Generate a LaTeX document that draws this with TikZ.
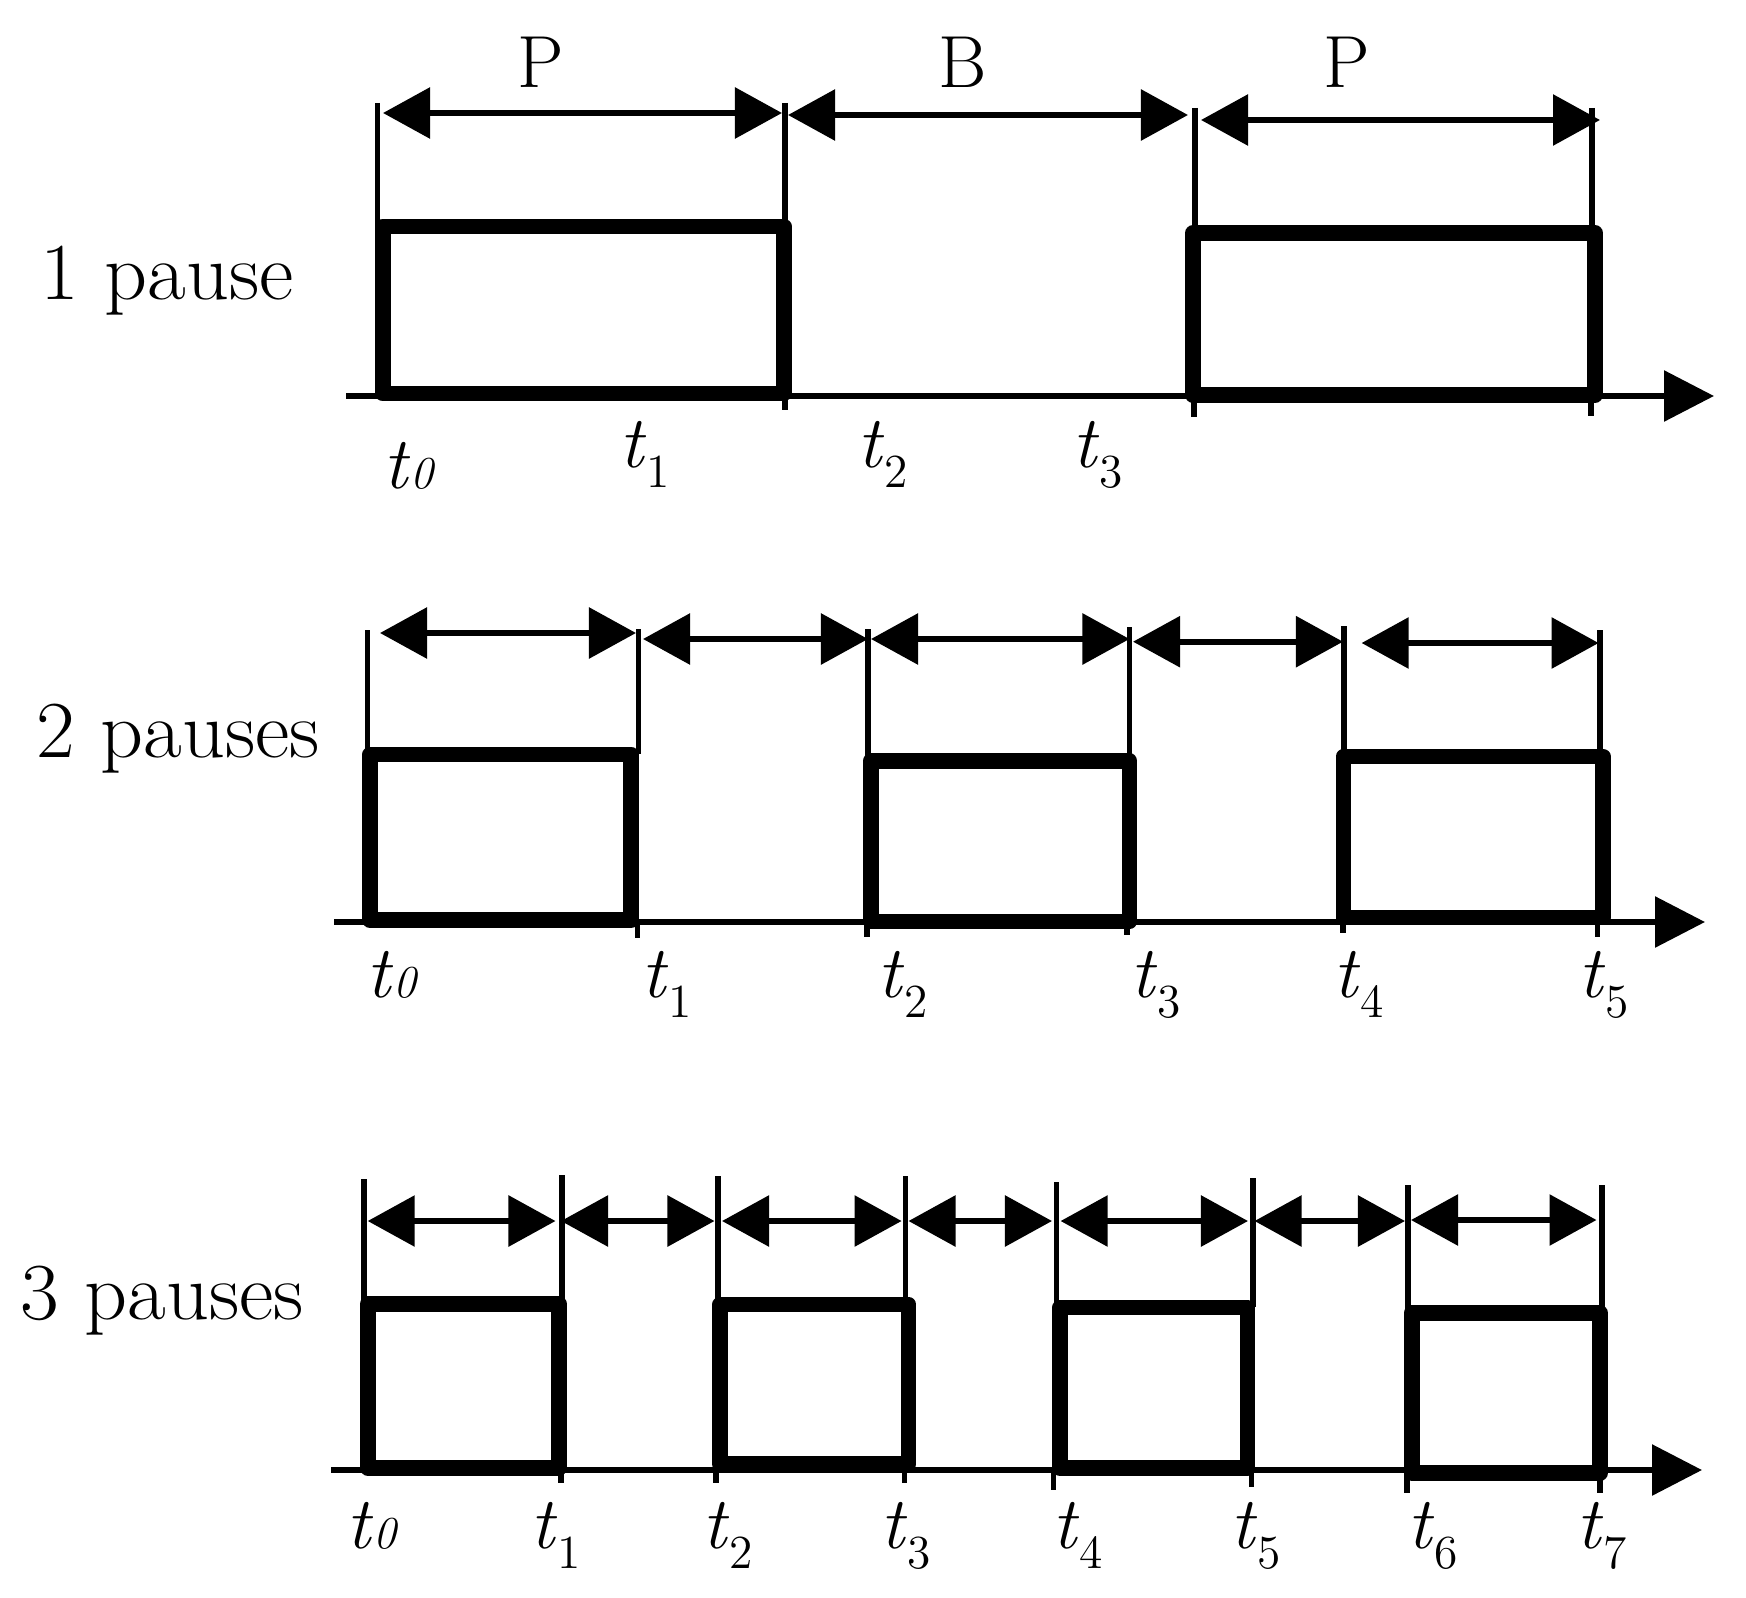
\documentclass[tikz,border=0pt]{standalone}
\usetikzlibrary{arrows.meta}
\newcommand{\tsub}[1]{\textit{t}\raisebox{-5.7pt}{\fontsize{13.5}{13.5}\selectfont #1}}
\newcommand{\tzero}{\textit{t}{\fontsize{13}{13}\selectfont\itshape 0}}
\begin{document}
\begin{tikzpicture}[x=0.01cm,y=-0.01cm]
\tikzset{
 pulse/.style={line width=4.5pt, line join=round},
 guide/.style={line width=1.5pt},
 dim/.style={line width=1.7pt, {Triangle[length=0.47cm,width=0.5cm]}-{Triangle[length=0.47cm,width=0.5cm]}},
 timeaxis/.style={line width=1.7pt, -{Triangle[length=0.5cm,width=0.5cm]}},
 lbl/.style={font=\fontsize{23}{27}\selectfont, inner sep=0pt, anchor=base west},
 tlbl/.style={font=\fontsize{21}{25}\selectfont, inner sep=0pt, anchor=base west},
}
\useasboundingbox (0,0) rectangle (1746,1597);

% ---------- row labels ----------
\node[lbl] (row1) at (40,299) {\scalebox{1.04}[1]{1 pause}};
\node[lbl] (row2) at (36,757) {\scalebox{1.04}[1]{2 pauses}};
\node[lbl] (row3) at (20,1319) {\scalebox{1.04}[1]{3 pauses}};

% ---------- time axes ----------
\coordinate (ax1s) at (346,396);  \coordinate (ax1e) at (1714,396);
\coordinate (ax2s) at (334,922);  \coordinate (ax2e) at (1705,922);
\coordinate (ax3s) at (331,1470); \coordinate (ax3e) at (1702,1470);
\draw[timeaxis] (ax1s) -- (ax1e);
\draw[timeaxis] (ax2s) -- (ax2e);
\draw[timeaxis] (ax3s) -- (ax3e);

% ---------- guide lines (top -> box top) ----------
\foreach \n/\x/\ya/\yb in {
  11/377.5/103/226, 12/785/103/226, 13/1195/108/233, 14/1592/108/233,
  21/367.7/630/754, 22/638.7/629/754, 23/868/629/761, 24/1129.5/627/761, 25/1344/626/756, 26/1600/630/756,
  31/364/1179/1304, 32/562/1175/1304, 33/718/1176/1304, 34/905.6/1176/1304, 35/1056.6/1182/1307, 36/1253/1178/1307, 37/1408/1185/1313, 38/1602/1185/1313}{
  \coordinate (g\n a) at (\x,\ya);
  \coordinate (g\n b) at (\x,\yb);
  \draw[guide] (g\n a) -- (g\n b);
}

% ---------- ticks below axes ----------
\foreach \n/\x/\ya/\yb in {
  11/785/396/410, 12/1194/396/417, 13/1591/396/416,
  21/637.5/922/938, 22/867/922/937, 23/1127/922/935, 24/1343/922/933, 25/1597.7/922/937,
  31/561/1470/1483, 32/716/1470/1483, 33/904.5/1470/1483, 34/1053.7/1470/1490, 35/1251.6/1470/1487, 36/1407/1470/1493, 37/1600/1470/1493}{
  \coordinate (k\n a) at (\x,\ya);
  \coordinate (k\n b) at (\x,\yb);
  \draw[guide] (k\n a) -- (k\n b);
}

% ---------- pulses ----------
\draw[pulse] (382.6,226.5) rectangle (784,393.5);
\draw[pulse] (1193,233) rectangle (1595,395);

\draw[pulse] (370,754.5) rectangle (631,920);
\draw[pulse] (870.6,761) rectangle (1129.5,921.5);
\draw[pulse] (1343.5,756.5) rectangle (1602.7,917.5);

\draw[pulse] (368,1304) rectangle (559,1468);
\draw[pulse] (720,1304.5) rectangle (908.5,1464);
\draw[pulse] (1060,1307.5) rectangle (1247.5,1468);
\draw[pulse] (1411.7,1313) rectangle (1600,1473);

% ---------- dimension arrows ----------
\foreach \n/\xa/\xb/\y in {
  11/383/782/113, 12/788/1188/115, 13/1201/1600/120,
  21/380/636/633, 22/643/868/639, 23/871/1129.5/639, 24/1133/1343/641.7, 25/1361.6/1598.6/643,
  31/367.7/555.5/1221, 32/561/714.5/1221, 33/722/901.6/1221, 34/908.5/1052/1221, 35/1060.6/1248/1221, 36/1254.5/1405/1221, 37/1411/1596.5/1220}{
  \coordinate (d\n a) at (\xa,\y);
  \coordinate (d\n b) at (\xb,\y);
  \draw[dim] (d\n a) -- (d\n b);
}

% ---------- interval labels ----------
\node[font=\fontsize{21}{25}\selectfont, inner sep=0pt, anchor=base] (lp1) at (541,88) {P};
\node[font=\fontsize{21}{25}\selectfont, inner sep=0pt, anchor=base] (lb1) at (963,88) {B};
\node[font=\fontsize{21}{25}\selectfont, inner sep=0pt, anchor=base] (lp2) at (1347,88) {P};

% ---------- time labels ----------
\node[tlbl] (r1t0) at (383,488) {\tzero};
\node[tlbl] (r1t1) at (619,467) {\tsub{1}};
\node[tlbl] (r1t2) at (857,467) {\tsub{2}};
\node[tlbl] (r1t3) at (1072,467) {\tsub{3}};

\node[tlbl] (r2t0) at (366,997) {\tzero};
\node[tlbl] (r2t1) at (641,997) {\tsub{1}};
\node[tlbl] (r2t2) at (877,997) {\tsub{2}};
\node[tlbl] (r2t3) at (1129.5,997) {\tsub{3}};
\node[tlbl] (r2t4) at (1333,997) {\tsub{4}};
\node[tlbl] (r2t5) at (1578,997) {\tsub{5}};

\node[tlbl] (r3t0) at (346,1548) {\tzero};
\node[tlbl] (r3t1) at (529.6,1548) {\tsub{1}};
\node[tlbl] (r3t2) at (702,1548) {\tsub{2}};
\node[tlbl] (r3t3) at (880,1548) {\tsub{3}};
\node[tlbl] (r3t4) at (1052,1548) {\tsub{4}};
\node[tlbl] (r3t5) at (1229.8,1548) {\tsub{5}};
\node[tlbl] (r3t6) at (1407,1548) {\tsub{6}};
\node[tlbl] (r3t7) at (1576,1548) {\tsub{7}};
\end{tikzpicture}
\end{document}
